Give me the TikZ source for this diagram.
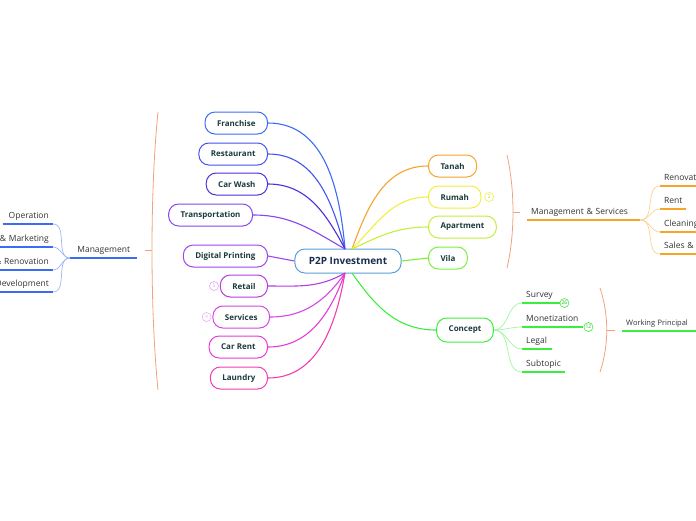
\documentclass[tikz,border=0pt]{standalone}
\usepackage{fontspec}
\setmainfont{Open Sans}
\usepackage{tikz}
\usetikzlibrary{calc,positioning}
\definecolor{nodetext}{HTML}{1B3B3A}
\definecolor{hubtext}{HTML}{1A2C4E}
\definecolor{topictext}{HTML}{333333}
\definecolor{hubline}{HTML}{5A9ED6}
\definecolor{cFranchise}{HTML}{3C6CF4}
\definecolor{cRestaurant}{HTML}{4552EE}
\definecolor{cCarWash}{HTML}{4A30D8}
\definecolor{cTransport}{HTML}{8446EE}
\definecolor{cDigital}{HTML}{A045EE}
\definecolor{cRetail}{HTML}{B43CE2}
\definecolor{cServices}{HTML}{D646E6}
\definecolor{cCarRent}{HTML}{E63AD8}
\definecolor{cLaundry}{HTML}{F03EB2}
\definecolor{cTanah}{HTML}{F5A52A}
\definecolor{cRumah}{HTML}{F2EE3C}
\definecolor{cApartment}{HTML}{C4EE3C}
\definecolor{cVila}{HTML}{7CEE3C}
\definecolor{cConcept}{HTML}{3CEE3C}
\definecolor{brace}{HTML}{F0A27E}

\begin{document}
\begin{tikzpicture}[x=1pt,y=-1pt,
   idea/.style={draw,rounded corners=10pt,line width=1pt,minimum height=22pt,
      inner xsep=12pt,fill=white,text=nodetext,font=\fontsize{8}{9}\selectfont\bfseries},
   topic/.style={inner xsep=4pt,inner ysep=3pt,text height=6pt,text depth=2pt,
      text=topictext,font=\fontsize{8.5}{10}\selectfont},
   link/.style={line width=1.1pt},
   twig/.style={line width=0.7pt},
   bar/.style={line width=1.4pt},
   badge/.style={circle,draw,line width=0.6pt,inner sep=0.3pt,minimum size=9pt,
      font=\fontsize{5}{5}\selectfont},
   bracket/.style={draw=brace,line width=0.8pt}]
\clip (0,0) rectangle (696,520);
\useasboundingbox (0,0) rectangle (696,520);

% central topic
\node[idea,draw=hubline,text=hubtext,minimum height=24pt,inner xsep=14pt,
   font=\fontsize{10}{12}\selectfont\bfseries] (hub) at (348,261) {P2P Investment};
\coordinate (hubL) at (345,249);
\coordinate (hubLB) at (345,273);
\coordinate (hubR) at (352,249);
\coordinate (hubRB) at (352,273);

% left branches
\node[idea,draw=cFranchise,anchor=east] (franchise) at (268,123) {Franchise};
\node[idea,draw=cRestaurant,anchor=east] (restaurant) at (268,154) {Restaurant};
\node[idea,draw=cCarWash,anchor=east] (carwash) at (268,184) {Car Wash};
\node[idea,draw=cTransport,anchor=east] (transport) at (253,215) {Transportation};
\node[idea,draw=cDigital,anchor=east] (digital) at (268,256) {Digital Printing};
\node[idea,draw=cRetail,anchor=east] (retail) at (268,286) {Retail};
\node[idea,draw=cServices,anchor=east] (services) at (270,317) {Services};
\node[idea,draw=cCarRent,anchor=east] (carrent) at (268,347) {Car Rent};
\node[idea,draw=cLaundry,anchor=east] (laundry) at (268,378) {Laundry};
\node[badge,draw=cRetail!45,text=cRetail!45,left=1pt of retail] (b5) {5};
\node[badge,draw=cServices!45,text=cServices!45,left=1pt of services] (b4) {4};

\draw[link,cFranchise] (franchise.east) to[out=0,in=95] (hubL);
\draw[link,cRestaurant] (restaurant.east) to[out=0,in=105] (hubL);
\draw[link,cCarWash] (carwash.east) to[out=0,in=118] (hubL);
\draw[link,cTransport] (transport.east) to[out=0,in=150] (hubL);
\draw[link,cDigital] (digital.east) -- (hub.west);
\draw[link,cRetail] (retail.east) to[out=0,in=-150] (hubLB);
\draw[link,cServices] (services.east) to[out=0,in=-125] (hubLB);
\draw[link,cCarRent] (carrent.east) to[out=0,in=-110] (hubLB);
\draw[link,cLaundry] (laundry.east) to[out=0,in=-100] (hubLB);

% right branches
\node[idea,draw=cTanah,anchor=west] (tanah) at (428,166) {Tanah};
\node[idea,draw=cRumah,anchor=west] (rumah) at (428,197) {Rumah};
\node[idea,draw=cApartment,anchor=west] (apartment) at (428,227) {Apartment};
\node[idea,draw=cVila,anchor=west] (vila) at (428,258) {Vila};
\node[idea,draw=cConcept,minimum height=24pt] (concept) at (465,330) {Concept};
\node[badge,draw=cRumah,text=cRumah!85!black,right=3pt of rumah] (b2) {2};

\draw[link,cTanah] (hubR) to[out=70,in=180] (tanah.west);
\draw[link,cRumah] (hubR) to[out=45,in=180] (rumah.west);
\draw[link,cApartment] (hubR) to[out=25,in=180] (apartment.west);
\draw[link,cVila] (hub.east) -- (vila.west);
\draw[link,cConcept] (hubRB) to[out=-55,in=180] (concept.west);

% management (left bracket)
\draw[bracket] (158,112) .. controls (150,190) and (150,310) .. (158,390);
\coordinate (mgTick) at (152,250);
\draw[bracket] (mgTick) -- ++(-7,0);
\node[topic,anchor=south west,text width=59pt,align=center] (mgmt) at (70,258) {Management};
\draw[bar,cFranchise] (mgmt.south west) -- (mgmt.south east);
\node[topic,anchor=south east,text width=42pt,align=right] (operation) at (53,224) {Operation};
\node[topic,anchor=south east,text width=60pt,align=right] (marketing) at (53,247) {\&~Marketing};
\node[topic,anchor=south east,text width=60pt,align=right] (renovation) at (53,270) {\&~Renovation};
\node[topic,anchor=south east,text width=60pt,align=right] (development) at (53,292) {Development};
\foreach \t in {operation,marketing,renovation,development}
   \draw[bar,cFranchise] (\t.south west) -- (\t.south east);
\foreach \t in {operation,marketing,renovation,development}
   \draw[twig,cFranchise!50] (mgmt.south west) to[out=180,in=0] (\t.south east);

% management & services (right bracket)
\draw[bracket] (507,155) .. controls (515,190) and (515,234) .. (507,268);
\coordinate (msTick) at (513,212);
\draw[bracket] (msTick) -- ++(7,0);
\node[topic,anchor=south west,text width=105pt] (mserv) at (527,220) {Management \& Services};
\draw[bar,cTanah] (mserv.south west) -- (mserv.south east);
\node[topic,anchor=south west,text width=60pt] (renov) at (660,186) {\mbox{Renovation}};
\node[topic,anchor=south west,text width=18pt] (rent) at (660,209) {Rent};
\node[topic,anchor=south west,text width=60pt] (cleaning) at (660,232) {\mbox{Cleaning}};
\node[topic,anchor=south west,text width=60pt] (sales) at (660,254) {\mbox{Sales \& Marketing}};
\foreach \t in {renov,rent,cleaning,sales}
   \draw[bar,cTanah] (\t.south west) -- (\t.south east);
\foreach \t in {renov,rent,cleaning,sales}
   \draw[twig,cTanah!50] (mserv.south east) to[out=0,in=180] (\t.south west);

% concept
\node[topic,anchor=south west,text width=30pt] (survey) at (522,303) {Survey};
\node[topic,anchor=south west,text width=53pt] (monet) at (522,327) {Monetization};
\node[topic,anchor=south west,text width=22pt] (legal) at (522,349) {Legal};
\node[topic,anchor=south west,text width=35pt] (subtopic) at (522,372) {Subtopic};
\foreach \t in {survey,monet,legal,subtopic}
   \draw[bar,cConcept] (\t.south west) -- (\t.south east);
\foreach \t in {survey,monet,legal,subtopic}
   \draw[twig,cConcept!50] (concept.east) to[out=0,in=180] (\t.south west);
\node[badge,draw=cConcept,text=cConcept!70!black] (b26) at ($(survey.south east)+(4,0)$) {26};
\node[badge,draw=cConcept,text=cConcept!70!black] (b12) at ($(monet.south east)+(5,0)$) {12};

% working principal
\draw[bracket] (600,288) .. controls (609,315) and (609,345) .. (600,372);
\coordinate (wpTick) at (607,330);
\draw[bracket] (wpTick) -- ++(8,0);
\node[topic,anchor=south west,text width=66pt,font=\fontsize{7.5}{9}\selectfont]
   (working) at (622,331) {\mbox{Working Principal}};
\draw[bar,cConcept] (working.south west) -- (working.south east);
\end{tikzpicture}
\end{document}
